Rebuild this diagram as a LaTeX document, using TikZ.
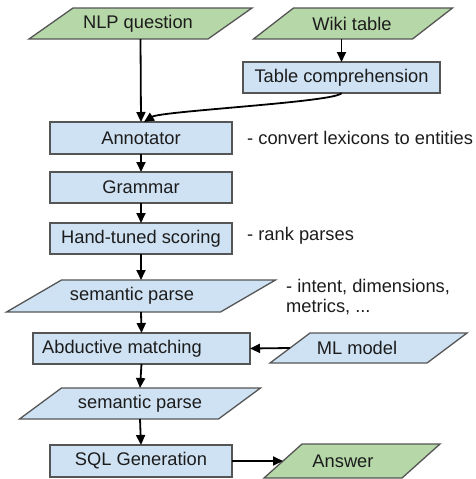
\documentclass[tikz,border=0pt]{standalone}
\usepackage{fontspec}
\setmainfont{Liberation Sans}
\usetikzlibrary{arrows.meta,backgrounds}
\definecolor{gfill}{HTML}{B6D7A8}
\definecolor{bfill}{HTML}{CFE2F3}
\definecolor{edge}{HTML}{555555}
\definecolor{ink}{HTML}{1C1C1C}
\tikzset{
  every node/.style={font=\fontsize{18.3}{20}\selectfont, text=ink},
  rbox/.style={draw=edge, line width=1.3pt, fill=bfill, inner sep=0pt, outer sep=0pt},
  pbox/.style={inner sep=0pt, outer sep=0pt},
  ptxt/.style={inner sep=0pt},
  note/.style={anchor=west, inner sep=0pt, align=left},
  conn/.style={line width=1.8pt, draw=black, -{Triangle[length=10pt,width=9pt]}},
  pshape/.style={draw=edge, line width=1.3pt, line join=miter},
}
% parallelogram drawn around a named node: #1 name, #2 slant (half), #3 fill
\newcommand{\paraback}[3]{%
  \begin{pgfonlayer}{background}
  \path[pshape, fill=#3] ([xshift=-#2pt]#1.south west) -- ([xshift=-#2pt]#1.south east)
     -- ([xshift=#2pt]#1.north east) -- ([xshift=#2pt]#1.north west) -- cycle;
  \end{pgfonlayer}}
\begin{document}
\begin{tikzpicture}[x=1pt, y=-1pt]
\useasboundingbox (0,0) rectangle (475,479);

% parallelogram anchor nodes (width between midpoints of slanted edges)
\node[pbox, minimum width=179pt, minimum height=31pt] (nlp) at (140.5,23.5) {};
\node[pbox, minimum width=159pt, minimum height=31pt] (wiki) at (353,23.5) {};
\node[pbox, minimum width=214pt, minimum height=32pt] (sp1) at (141,296) {};
\node[pbox, minimum width=157pt, minimum height=30pt] (ml) at (368.5,348) {};
\node[pbox, minimum width=199pt, minimum height=31pt] (sp2) at (140,403.5) {};
\node[pbox, minimum width=138pt, minimum height=34pt] (ans) at (352,461) {};

\paraback{nlp}{22}{gfill}
\paraback{wiki}{20}{gfill}
\paraback{sp1}{27.5}{bfill}
\paraback{ml}{20}{bfill}
\paraback{sp2}{21}{bfill}
\paraback{ans}{19}{gfill}

% parallelogram texts
\node[ptxt] (nlpt) at (138,23.5) {NLP question};
\node[ptxt] (wikit) at (352,23.5) {Wiki table};
\node[ptxt] (sp1t) at (132,296) {semantic parse};
\node[ptxt] (mlt) at (357,348) {ML model};
\node[ptxt] (sp2t) at (140,403.5) {semantic parse};
\node[ptxt] (anst) at (343,461) {Answer};

% rectangles
\node[rbox, minimum width=197pt, minimum height=31pt] (tc) at (341.5,77.5) {Table comprehension};
\node[rbox, minimum width=182pt, minimum height=32pt] (ann) at (141,138) {Annotator};
\node[rbox, minimum width=182pt, minimum height=31pt] (gram) at (141,187.5) {Grammar};
\node[rbox, minimum width=182pt, minimum height=31pt] (hand) at (141,238.5) {Hand-tuned scoring};
\node[rbox, minimum width=217pt, minimum height=31pt] (abd) at (141.5,348.5) {};
\node[ptxt] (abdt) at (122,348.5) {Abductive matching};
\node[rbox, minimum width=182pt, minimum height=32pt] (sql) at (141,461) {SQL Generation};

% notes
\node[note] (n1) at (247,138) {- convert lexicons to entities};
\node[note] (n2) at (247,236) {- rank parses};
\node[note] (n3) at (286,297) {- intent, dimensions,\\metrics, ...};

% connectors
\draw[conn] (nlp.south) -- (ann.north);
\draw[conn] (tc.north |- wiki.south) -- (tc.north);
\draw[conn] (tc.south) .. controls ([xshift=-4pt,yshift=-9pt]tc.south) and ([xshift=20pt,yshift=11pt]ann.north) .. ([xshift=3pt]ann.north);
\draw[conn] (ann.south) -- (gram.north);
\draw[conn] (gram.south) -- (hand.north);
\draw[conn] (hand.south) -- (sp1.north);
\draw[conn] (sp1.south) -- (abd.north);
\draw[conn] (ml.west) -- (abd.east);
\draw[conn] (abd.south) -- (sp2.north);
\draw[conn] (sp2.south) -- (sql.north);
\draw[conn] (sql.east) -- (ans.west);
\end{tikzpicture}
\end{document}
